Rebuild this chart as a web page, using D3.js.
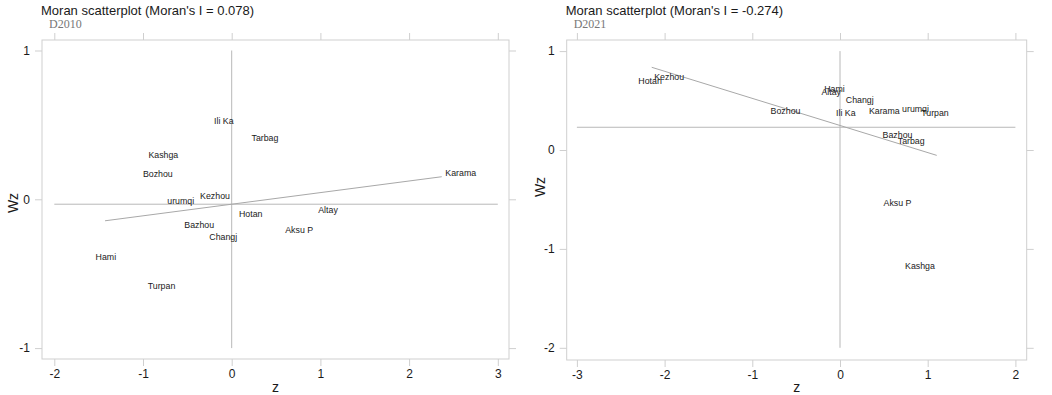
<!DOCTYPE html>
<html>
<head>
<meta charset="utf-8">
<script src="https://cdn.jsdelivr.net/npm/d3@7"></script>
<style>
  html, body { margin: 0; padding: 0; background: #fff; }
  svg { display: block; font-family: "Liberation Sans", Arial, sans-serif; }
</style>
</head>
<body>
<svg id="chart" width="1052" height="395"></svg>
<script>
// ---- data ----
const regions2010 = ["Ili Ka","Tarbag","Kashga","Bozhou","Kezhou","urumqi","Hotan","Altay","Bazhou","Changj","Aksu P","Hami","Turpan","Karama"];
const z2010  = [-0.089, 0.375, -0.771, -0.833, -0.188, -0.575, 0.215, 1.086, -0.366, -0.095, 0.761, -1.419, -0.791, 2.582];
const wz2010 = [0.528, 0.410, 0.296, 0.172, 0.022, -0.009, -0.099, -0.072, -0.173, -0.251, -0.206, -0.386, -0.581, 0.175];

const regions2021 = ["Hotan","Kezhou","Hami","Altay","Changj","Bozhou","Ili Ka","Karama","urumqi","Turpan","Bazhou","Tarbag","Aksu P","Kashga"];
const z2021  = [-2.166, -1.948, -0.063, -0.100, 0.225, -0.621, 0.066, 0.505, 0.861, 1.083, 0.656, 0.812, 0.656, 0.912];
const wz2021 = [0.698, 0.741, 0.620, 0.586, 0.506, 0.394, 0.371, 0.397, 0.418, 0.377, 0.152, 0.091, -0.533, -1.173];

const moranI2010 = 0.078, moranI2021 = -0.274;
const intercept2010 = -0.033, intercept2021 = 0.248;
const fitRange2010 = [-1.428, 2.368], fitRange2021 = [-2.147, 1.103];
const meanWz2010 = -0.033, meanWz2021 = 0.23;

const xTicks2010 = [-2, -1, 0, 1, 2, 3];
const yTicks2010 = [-1, 0, 1];
const xTicks2021 = [-3, -2, -1, 0, 1, 2];
const yTicks2021 = [-2, -1, 0, 1];

const titles = ["Moran scatterplot (Moran's I = 0.078)", "Moran scatterplot (Moran's I = -0.274)"];
const varNames = ["D2010", "D2021"];

// ---- drawing ----
const svg = d3.select("#chart");
const BOX = "#cfcfcf", REF = "#b8b8b8", FIT = "#a8a8a8", TXT = "#1a1a1a";

function panel(opt) {
  const x = d3.scaleLinear().domain(opt.xDom).range([opt.left, opt.right]);
  const y = d3.scaleLinear().domain(opt.yDom).range([opt.bottom, opt.top]);
  const g = svg.append("g");

  // title + variable name
  g.append("text").attr("x", opt.left - 1).attr("y", 15)
    .attr("font-size", 13).attr("fill", TXT).text(opt.title);
  g.append("text").attr("x", opt.left + 7).attr("y", 28)
    .attr("font-family", "'Liberation Serif', 'Times New Roman', serif")
    .attr("font-size", 12).attr("fill", "#777").text(opt.varName);

  // box
  g.append("rect").attr("x", opt.left).attr("y", opt.top)
    .attr("width", opt.right - opt.left).attr("height", opt.bottom - opt.top)
    .attr("fill", "none").attr("stroke", BOX).attr("stroke-width", 1);

  function styleAxis(sel, labels) {
    sel.select(".domain").remove();
    sel.selectAll(".tick line").attr("stroke", BOX);
    sel.selectAll(".tick text").attr("fill", TXT).attr("font-size", 12)
      .attr("font-family", "'Liberation Sans', Arial, sans-serif");
    if (!labels) sel.selectAll(".tick text").remove();
  }

  const fmt = d => String(d);
  styleAxis(g.append("g").attr("transform", `translate(0,${opt.bottom})`)
    .call(d3.axisBottom(x).tickValues(opt.xTicks).tickFormat(fmt).tickSize(7).tickPadding(3)), true);
  styleAxis(g.append("g").attr("transform", `translate(0,${opt.top})`)
    .call(d3.axisTop(x).tickValues(opt.xTicks).tickSize(7)), false);
  styleAxis(g.append("g").attr("transform", `translate(${opt.left},0)`)
    .call(d3.axisLeft(y).tickValues(opt.yTicks).tickFormat(fmt).tickSize(7).tickPadding(5)), true);
  styleAxis(g.append("g").attr("transform", `translate(${opt.right},0)`)
    .call(d3.axisRight(y).tickValues(opt.yTicks).tickSize(7)), false);

  // axis titles
  g.append("text").attr("x", (opt.left + opt.right) / 2).attr("y", 392)
    .attr("text-anchor", "middle").attr("font-size", 14).attr("fill", TXT).text("z");
  g.append("text").attr("transform", `translate(${opt.wzX},${opt.wzY}) rotate(-90)`)
    .attr("text-anchor", "middle").attr("dy", "0.35em")
    .attr("font-size", 14).attr("fill", TXT).text("Wz");

  // reference lines
  const xt = opt.xTicks, yt = opt.yTicks;
  g.append("line").attr("x1", x(d3.min(xt))).attr("x2", x(d3.max(xt)))
    .attr("y1", y(opt.meanWz)).attr("y2", y(opt.meanWz))
    .attr("stroke", REF).attr("stroke-width", 1);
  g.append("line").attr("x1", x(0)).attr("x2", x(0))
    .attr("y1", y(d3.max(yt))).attr("y2", y(d3.min(yt)))
    .attr("stroke", REF).attr("stroke-width", 1);

  // fit line
  const line = d3.line().x(d => x(d)).y(d => y(opt.intercept + opt.slope * d));
  g.append("path").datum(opt.fitRange).attr("d", line)
    .attr("fill", "none").attr("stroke", FIT).attr("stroke-width", 1);

  // labels
  g.selectAll("text.lab").data(opt.names).join("text").attr("class", "lab")
    .attr("x", (d, i) => x(opt.zs[i])).attr("y", (d, i) => y(opt.wzs[i]))
    .attr("text-anchor", "middle").attr("dy", "0.35em")
    .attr("font-size", 8.8).attr("fill", TXT).text(d => d);
}

panel({
  left: 42, right: 509, top: 40, bottom: 359,
  xDom: [(42 - 231.7) / 88.7, (509 - 231.7) / 88.7],
  yDom: [(199.3 - 359) / 148.8, (199.3 - 40) / 148.8],
  xTicks: xTicks2010, yTicks: yTicks2010,
  title: titles[0], varName: varNames[0],
  names: regions2010, zs: z2010, wzs: wz2010,
  slope: moranI2010, intercept: intercept2010, fitRange: fitRange2010, meanWz: meanWz2010,
  wzX: 13, wzY: 203
});

panel({
  left: 566.7, right: 1026.7, top: 40, bottom: 360,
  xDom: [(566.7 - 840) / 87.7, (1026.7 - 840) / 87.7],
  yDom: [(150 - 360) / 98.9, (150 - 40) / 98.9],
  xTicks: xTicks2021, yTicks: yTicks2021,
  title: titles[1], varName: varNames[1],
  names: regions2021, zs: z2021, wzs: wz2021,
  slope: moranI2021, intercept: intercept2021, fitRange: fitRange2021, meanWz: meanWz2021,
  wzX: 540, wzY: 187
});
</script>
</body>
</html>
